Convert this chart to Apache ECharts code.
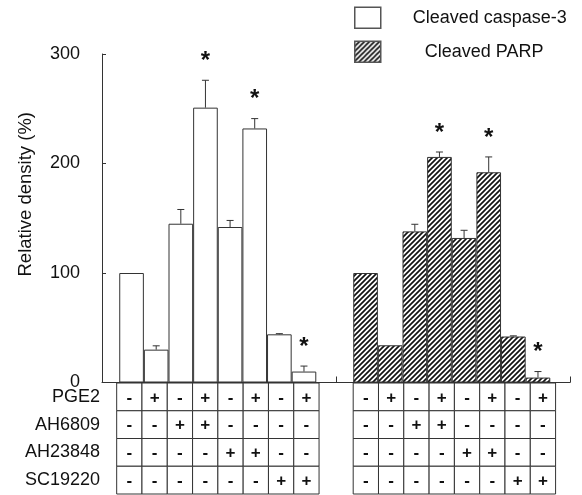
<!DOCTYPE html>
<html><head><meta charset="utf-8">
<script src="https://cdn.jsdelivr.net/npm/echarts@6/dist/echarts.min.js"></script>
<style>html,body{margin:0;padding:0;background:#fff}#c{width:582px;height:495px}</style>
</head><body><div id="c"></div>
<script>
// ---- data ----
const seriesNames = ['Cleaved caspase-3', 'Cleaved PARP'];
const caspase = [100, 30, 145, 251, 142, 232, 44, 10];
const caspaseErr = [0, 3.5, 13, 25, 6, 9, 0.6, 5];
const caspaseSig = [0, 0, 0, 1, 0, 1, 0, 1];
const parp = [100, 34, 138, 206, 132, 192, 42, 4.5];
const parpErr = [0, 0, 6.5, 4.5, 7, 14, 0.6, 5.5];
const parpSig = [0, 0, 0, 1, 0, 1, 0, 1];
const treatments = ['PGE2', 'AH6809', 'AH23848', 'SC19220'];
const signs = [
  ['-', '+', '-', '+', '-', '+', '-', '+'],
  ['-', '-', '+', '+', '-', '-', '-', '-'],
  ['-', '-', '-', '-', '+', '+', '-', '-'],
  ['-', '-', '-', '-', '-', '-', '+', '+']
];
const yTicks = [0, 100, 200, 300];

// ---- layout ----
const GROUP_SHIFT = 9.5;   // second group start on bar axis (in bar units)
const TABLE_SHIFT = 9.35;  // second group start on table axis
const FONT = 'Liberation Sans, Arial, sans-serif';
const LINE = '#333';

const groups = [
  {name: seriesNames[0], vals: caspase, err: caspaseErr, sig: caspaseSig},
  {name: seriesNames[1], vals: parp, err: parpErr, sig: parpSig}
];

function barData(g) {
  return groups[g].vals.map((v, i) => [g * GROUP_SHIFT + i + 0.5, v]);
}
const errData = [];
groups.forEach((gr, g) => gr.vals.forEach((v, i) => {
  errData.push([g * GROUP_SHIFT + i + 0.5, v, gr.err[i], gr.sig[i]]);
}));

const tableData = [];
const tableSigns = [];
for (let g = 0; g < 2; g++) {
  signs.forEach((row, r) => row.forEach((s, i) => {
    tableData.push([g * TABLE_SHIFT + i + 0.5, r]);
    tableSigns.push(s);
  }));
}

// diagonal "/" hatch tile
function makeHatch(p, lw) {
  const cv = document.createElement('canvas');
  cv.width = p; cv.height = p;
  const ctx = cv.getContext('2d');
  ctx.fillStyle = '#fff';
  ctx.fillRect(0, 0, p, p);
  ctx.strokeStyle = '#111';
  ctx.lineWidth = lw;
  ctx.beginPath();
  ctx.moveTo(0, p); ctx.lineTo(p, 0);
  ctx.moveTo(-p / 2, p / 2); ctx.lineTo(p / 2, -p / 2);
  ctx.moveTo(p / 2, p * 1.5); ctx.lineTo(p * 1.5, p / 2);
  ctx.stroke();
  return {image: cv, repeat: 'repeat'};
}
const hatchFill = makeHatch(5, 1.7);

const chart = echarts.init(document.getElementById('c'), null, {renderer: 'canvas'});
chart.setOption({
  animation: false,
  backgroundColor: '#fff',
  textStyle: {fontFamily: FONT},
  legend: [
    {data: [seriesNames[0]], left: 354, top: 6.5, padding: 0, icon: 'rect',
     itemWidth: 26, itemHeight: 21,
     itemStyle: {borderColor: '#555', borderWidth: 1.5},
     textStyle: {fontSize: 18, color: '#111', fontFamily: FONT, padding: [0, 0, 0, 27]}},
    {data: [seriesNames[1]], left: 354, top: 40.5, padding: 0, icon: 'rect',
     itemWidth: 26, itemHeight: 21,
     itemStyle: {borderColor: '#555', borderWidth: 1.5},
     textStyle: {fontSize: 18, color: '#111', fontFamily: FONT, padding: [0, 0, 0, 39]}}
  ],
  grid: [
    {left: 102, right: 12, top: 54, bottom: 112.5},
    {left: 102, right: 12, top: 383, bottom: 1}
  ],
  xAxis: [
    {type: 'value', gridIndex: 0, min: -0.7, max: 18.3,
     axisLine: {show: true, onZero: false, lineStyle: {color: LINE, width: 1}},
     axisTick: {show: true, inside: true, length: 6, customValues: [8.8, 18.3], lineStyle: {color: LINE}},
     axisLabel: {show: false}, splitLine: {show: false}},
    {type: 'value', gridIndex: 1, min: -0.58, max: 17.92, show: false}
  ],
  yAxis: [
    {type: 'value', gridIndex: 0, min: yTicks[0], max: yTicks[yTicks.length - 1], interval: 100,
     name: 'Relative density (%)', nameLocation: 'middle', nameGap: 67,
     nameTextStyle: {fontSize: 18.5, color: '#111', fontFamily: FONT, padding: [0, 0, 0, 48]},
     axisLine: {show: true, onZero: false, lineStyle: {color: LINE, width: 1}},
     axisTick: {show: true, inside: true, length: 4, lineStyle: {color: LINE}},
     axisLabel: {fontSize: 18, color: '#111', margin: 22, fontFamily: FONT},
     splitLine: {show: false}},
    {type: 'category', gridIndex: 1, data: treatments, inverse: true,
     axisLine: {show: false}, axisTick: {show: false},
     axisLabel: {fontSize: 18, color: '#111', margin: 2, fontFamily: FONT}}
  ],
  series: [
    {name: seriesNames[0], type: 'bar', xAxisIndex: 0, yAxisIndex: 0,
     data: barData(0), barWidth: '100%', barGap: '-100%',
     itemStyle: {color: '#fff', borderColor: LINE, borderWidth: 1}},
    {name: seriesNames[1], type: 'bar', xAxisIndex: 0, yAxisIndex: 0,
     data: barData(1), barWidth: '100%', barGap: '-100%',
     itemStyle: {color: hatchFill, borderColor: LINE, borderWidth: 1}},
    {type: 'custom', xAxisIndex: 0, yAxisIndex: 0, data: errData, z: 5,
     renderItem: function (params, api) {
       const x = api.value(0), v = api.value(1), e = api.value(2), s = api.value(3);
       const b = api.coord([x, v]);
       const t = api.coord([x, v + e]);
       const ch = [];
       if (e > 0) {
         ch.push({type: 'line', shape: {x1: b[0], y1: b[1], x2: t[0], y2: t[1]},
                  style: {stroke: LINE, lineWidth: 1}});
         ch.push({type: 'line', shape: {x1: t[0] - 3.5, y1: t[1], x2: t[0] + 3.5, y2: t[1]},
                  style: {stroke: LINE, lineWidth: 1}});
       }
       if (s) {
         ch.push({type: 'text', style: {text: '*', x: t[0], y: t[1] - 19, align: 'center',
                  verticalAlign: 'middle', font: 'bold 24px ' + FONT, fill: '#111'}});
       }
       return {type: 'group', children: ch};
     }},
    {type: 'custom', xAxisIndex: 1, yAxisIndex: 1, data: tableData,
     renderItem: function (params, api) {
       const c = api.coord([api.value(0), api.value(1)]);
       const sz = api.size([1, 1]);
       const w = sz[0], h = sz[1];
       return {type: 'group', children: [
         {type: 'rect', shape: {x: c[0] - w / 2, y: c[1] - h / 2, width: w, height: h},
          style: {fill: '#fff', stroke: LINE, lineWidth: 1}},
         {type: 'text', style: {text: tableSigns[params.dataIndex], x: c[0], y: c[1] + 1,
          align: 'center', verticalAlign: 'middle', font: 'bold 17px ' + FONT, fill: '#111'}}
       ]};
     }}
  ]
});
</script>
</body></html>
